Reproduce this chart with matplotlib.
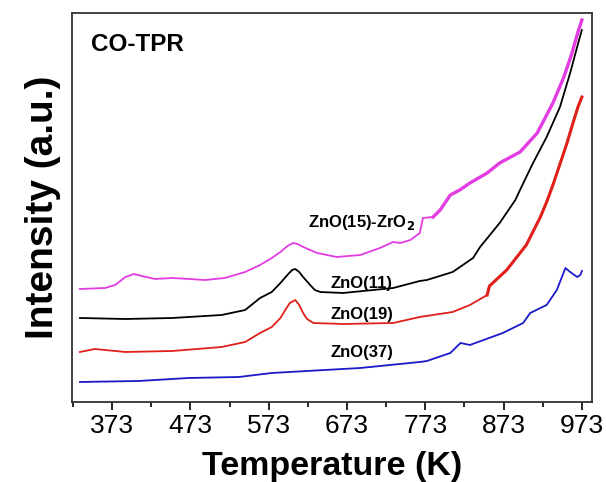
import matplotlib
matplotlib.use("Agg")
from matplotlib import pyplot as plt
from matplotlib.ticker import MultipleLocator

plt.rcParams["font.family"] = ["Liberation Sans", "DejaVu Sans"]

# Temperature (K) / intensity (a.u.) for the four samples
t_zro2 = [332, 364, 377, 390, 401, 411, 428, 450, 492, 517, 543, 562, 577, 588, 597, 604, 610, 617, 635, 660, 690,
          715, 732, 741, 754, 766, 770, 783, 792, 805, 817, 830, 852, 868, 894, 916, 936, 950, 960, 968, 973]
i_zro2 = [113, 114, 117, 125, 128, 126, 123, 124, 122, 124, 130, 137, 144, 150, 156, 159, 158, 155, 149, 145, 147,
          154, 160, 159, 162, 169, 184, 185, 192, 207, 212, 219, 229, 239, 250, 269, 299, 325, 348, 370, 382]

t_zno11 = [332, 390, 450, 513, 543, 562, 577, 588, 598, 603, 607, 612, 617, 626, 632, 639, 668, 732, 766, 775, 808,
           834, 843, 868, 888, 894, 910, 928, 945, 958, 969, 973]
i_zno11 = [84, 83, 84, 87, 92, 104, 110, 119, 128, 132, 133, 130, 125, 117, 112, 110, 109, 114, 121, 122, 130,
           144, 155, 179, 202, 212, 238, 265, 295, 329, 361, 372]

t_zno19 = [332, 351, 390, 450, 513, 543, 562, 577, 588, 595, 600, 607, 612, 617, 622, 630, 668, 732, 766, 808, 830,
           852, 855, 877, 902, 920, 928, 936, 945, 954, 962, 968, 973]
i_zno19 = [50, 53, 50, 51, 55, 60, 69, 75, 84, 93, 99, 102, 97, 89, 83, 79, 78, 79, 85, 90, 97,
           107, 116, 132, 157, 185, 200, 217, 238, 259, 280, 295, 305]

t_zno37 = [332, 407, 471, 535, 577, 690, 766, 775, 805, 818, 830, 872, 898, 907, 928, 941, 952, 958,
           967, 971, 973]
i_zno37 = [20, 21, 24, 25, 29, 34, 40, 41, 49, 59, 57, 69, 79, 89, 97, 112, 134, 130, 125, 127, 131]

labels = ["ZnO(15)-ZrO$_\\mathbf{2}$", "ZnO(11)", "ZnO(19)", "ZnO(37)"]
colors = ["#e23ce2", "#000000", "#e0201a", "#1a1ac8"]

fig = plt.figure(figsize=(6.06, 4.82), dpi=100)
ax = fig.add_axes([0.119, 0.166, 0.858, 0.807])

ax.plot(t_zro2, i_zro2, color=colors[0], lw=1.3)
ax.plot(t_zno11, i_zno11, color=colors[1], lw=1.3)
ax.plot(t_zno19, i_zno19, color=colors[2], lw=1.3)
ax.plot(t_zno37, i_zno37, color=colors[3], lw=1.3)
# noisy high-temperature parts look thicker
ax.plot(t_zro2[27:], i_zro2[27:], color=colors[0], lw=2.4)
ax.plot(t_zno19[21:], i_zno19[21:], color=colors[2], lw=2.2)

# labels next to curves
ax.text(692, 179, labels[0], fontsize=12, fontweight="bold", ha="center", va="center")
ax.text(692, 118, labels[1], fontsize=12, fontweight="bold", ha="center", va="center")
ax.text(692, 87, labels[2], fontsize=12, fontweight="bold", ha="center", va="center")
ax.text(692, 49, labels[3], fontsize=12, fontweight="bold", ha="center", va="center")
ax.text(0.036, 0.918, "CO-TPR", transform=ax.transAxes, fontsize=17.5, fontweight="bold",
        ha="left", va="center")

ax.set_xlim(322, 986)
ax.set_ylim(0, 389)
ax.xaxis.set_major_locator(MultipleLocator(100, offset=73))
ax.xaxis.set_minor_locator(MultipleLocator(50, offset=23))
ax.set_yticks([])
ax.tick_params(axis="x", which="major", direction="out", length=6, width=1.2, labelsize=19, pad=3)
ax.tick_params(axis="x", which="minor", direction="out", length=3.5, width=1.2)
for s in ax.spines.values():
    s.set_linewidth(1.3)
    s.set_color("#333333")

ax.set_xlabel("Temperature (K)", fontsize=24.5, fontweight="bold", labelpad=9)
ax.set_ylabel("Intensity (a.u.)", fontsize=28, fontweight="bold", labelpad=8)

fig.savefig("out.png", dpi=100)
